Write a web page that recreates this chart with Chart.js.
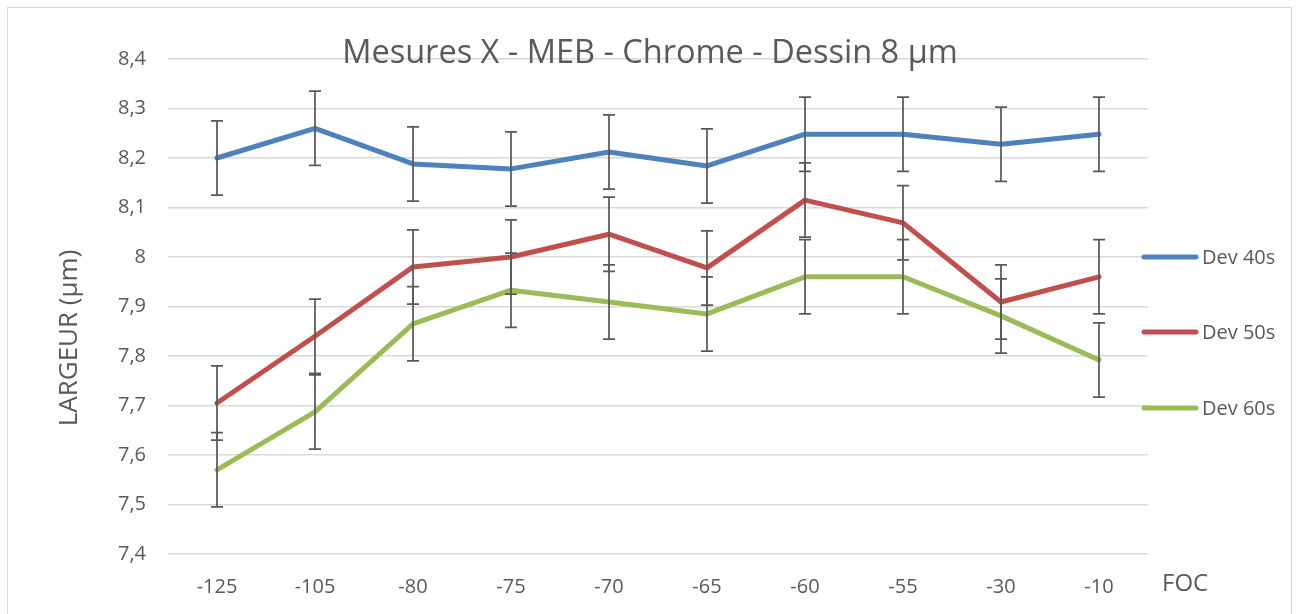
<!DOCTYPE html>
<html>
<head>
<meta charset="utf-8">
<script src="https://cdn.jsdelivr.net/npm/chart.js@4/dist/chart.umd.min.js"></script>
<style>
  html, body { margin: 0; padding: 0; background: #fff; }
  #wrap { position: relative; width: 1298px; height: 614px; overflow: hidden; }
  #frame { position: absolute; left: 7px; top: 7px; width: 1285px; height: 700px; border: 1px solid #d9d9d9; box-sizing: border-box; }
  canvas { position: absolute; left: 0; top: 0; }
</style>
</head>
<body>
<div id="wrap">
  <div id="frame"></div>
  <canvas id="chart" width="1298" height="614"></canvas>
</div>
<script>
const foc = ["-125", "-105", "-80", "-75", "-70", "-65", "-60", "-55", "-30", "-10"];
const dev40 = [8.2, 8.26, 8.188, 8.178, 8.212, 8.184, 8.248, 8.248, 8.228, 8.248];
const dev50 = [7.705, 7.84, 7.98, 8.0, 8.046, 7.978, 8.115, 8.069, 7.909, 7.96];
const dev60 = [7.57, 7.687, 7.865, 7.933, 7.909, 7.885, 7.96, 7.96, 7.881, 7.792];
const err40 = [0.075, 0.075, 0.075, 0.075, 0.075, 0.075, 0.075, 0.075, 0.075, 0.075];
const err50 = [0.075, 0.075, 0.075, 0.075, 0.075, 0.075, 0.075, 0.075, 0.075, 0.075];
const err60 = [0.075, 0.075, 0.075, 0.075, 0.075, 0.075, 0.075, 0.075, 0.075, 0.075];

const textColor = "#595959";
const font = "'Open Sans', 'Liberation Sans', sans-serif";

// error bars, drawn over each series line
const errorBars = {
  id: "errorBars",
  afterDatasetsDraw(chart) {
    const ctx = chart.ctx;
    const y = chart.scales.y;
    ctx.save();
    ctx.strokeStyle = "#595959";
    ctx.lineWidth = 1.75;
    chart.data.datasets.forEach((ds, i) => {
      const meta = chart.getDatasetMeta(i);
      meta.data.forEach((pt, j) => {
        const top = y.getPixelForValue(ds.data[j] + ds.errors[j]);
        const bot = y.getPixelForValue(ds.data[j] - ds.errors[j]);
        ctx.beginPath();
        ctx.moveTo(pt.x, top);
        ctx.lineTo(pt.x, bot);
        ctx.moveTo(pt.x - 6, top);
        ctx.lineTo(pt.x + 6, top);
        ctx.moveTo(pt.x - 6, bot);
        ctx.lineTo(pt.x + 6, bot);
        ctx.stroke();
      });
    });
    ctx.restore();
  },
};

// title, axis titles and the spread-out legend
const decorations = {
  id: "decorations",
  afterDraw(chart) {
    const ctx = chart.ctx;
    ctx.save();
    ctx.fillStyle = textColor;
    ctx.textBaseline = "alphabetic";

    ctx.font = "32.5px " + font;
    ctx.textAlign = "center";
    ctx.fillText("Mesures X - MEB - Chrome - Dessin 8 µm", 650, 63);

    ctx.font = "24px " + font;
    ctx.textAlign = "left";
    ctx.fillText("FOC", 1162, 591);

    ctx.save();
    ctx.translate(77, 338);
    ctx.rotate(-Math.PI / 2);
    ctx.textAlign = "center";
    ctx.font = "26px " + font;
    ctx.fillText("LARGEUR (µm)", 0, 0);
    ctx.restore();

    const rows = [257, 332, 408];
    ctx.font = "20px " + font;
    ctx.textBaseline = "middle";
    ctx.lineCap = "round";
    chart.data.datasets.forEach((ds, i) => {
      ctx.strokeStyle = ds.borderColor;
      ctx.lineWidth = 5;
      ctx.beginPath();
      ctx.moveTo(1144, rows[i]);
      ctx.lineTo(1196, rows[i]);
      ctx.stroke();
      ctx.fillStyle = textColor;
      ctx.textAlign = "left";
      ctx.fillText(ds.label, 1202, rows[i] + 1);
    });
    ctx.restore();
  },
};

const line = (label, data, errors, color) => ({
  label,
  data,
  errors,
  borderColor: color,
  backgroundColor: color,
  borderWidth: 5,
  pointRadius: 0,
  pointHoverRadius: 0,
  tension: 0,
  borderJoinStyle: "round",
  borderCapStyle: "round",
});

new Chart(document.getElementById("chart"), {
  type: "line",
  data: {
    labels: foc,
    datasets: [
      line("Dev 40s", dev40, err40, "#4f81bd"),
      line("Dev 50s", dev50, err50, "#c0504d"),
      line("Dev 60s", dev60, err60, "#9bbb59"),
    ],
  },
  options: {
    responsive: false,
    animation: false,
    events: [],
    layout: { padding: { top: 59, right: 150, bottom: 0, left: 0 } },
    plugins: {
      legend: { display: false },
      title: { display: false },
      tooltip: { enabled: false },
    },
    scales: {
      x: {
        offset: true,
        grid: { display: false },
        border: { display: false },
        ticks: { color: textColor, font: { family: font, size: 20 }, padding: 13 },
        afterFit: (s) => { s.height = 60; },
      },
      y: {
        min: 7.4,
        max: 8.4,
        grid: { color: "#d9d9d9", lineWidth: 1.5, drawTicks: false },
        border: { display: false },
        ticks: {
          stepSize: 0.1,
          color: textColor,
          font: { family: font, size: 20 },
          padding: 22,
          callback: (v) => String(Math.round(v * 10) / 10).replace(".", ","),
        },
        afterFit: (s) => { s.width = 168; },
      },
    },
  },
  plugins: [errorBars, decorations],
});
</script>
</body>
</html>
